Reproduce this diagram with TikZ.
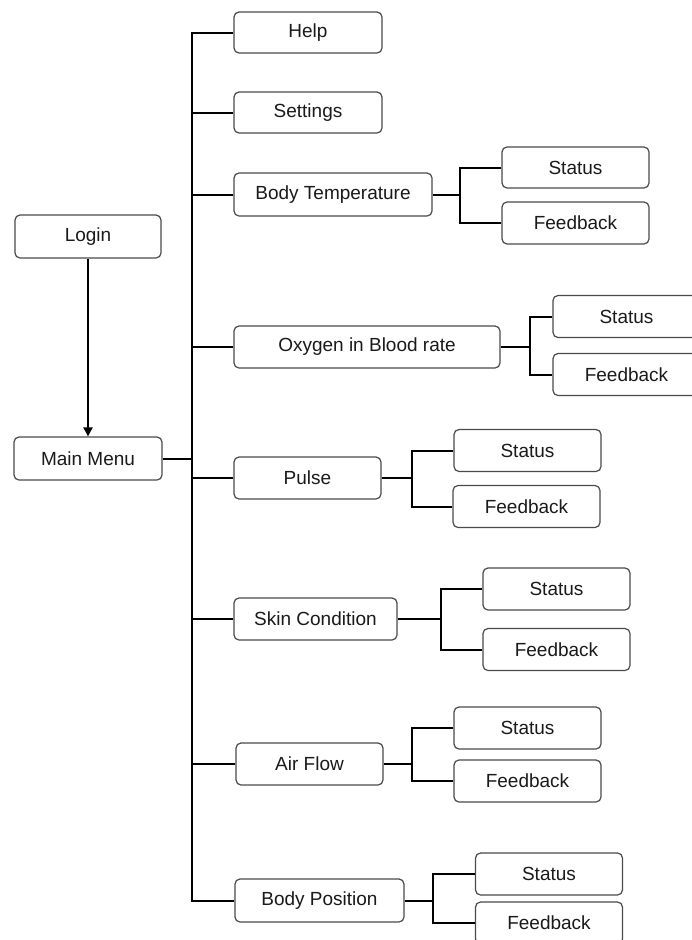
\documentclass[tikz,border=0pt]{standalone}
\usepackage{fontspec}
\setmainfont{Liberation Sans}
\usetikzlibrary{arrows.meta}
\definecolor{boxline}{HTML}{4A4A4A}
\definecolor{txt}{HTML}{1A1A1A}
\tikzset{
  box/.style={draw=boxline, line width=1.2pt, rounded corners=5pt, fill=white,
    minimum width=147pt, minimum height=42pt, inner sep=0pt, text=txt,
    font=\fontsize{19}{21}\selectfont},
  conn/.style={draw=black, line width=2pt},
  arr/.style={conn, -{Triangle[width=9pt,length=9pt]}}
}
\begin{document}
\begin{tikzpicture}[x=1pt,y=-1pt]
\clip (0,0) rectangle (692,940);
\fill[white] (0,0) rectangle (692,940);
% left column
\node[box, minimum width=146pt, minimum height=43pt] (login) at (88,236.5) {Login};
\node[box, minimum width=148pt, minimum height=43pt] (main) at (88,458.5) {Main Menu};
% menu items
\node[box, minimum width=148pt, minimum height=41pt] (help) at (308,32.5) {Help};
\node[box, minimum width=148pt, minimum height=41pt] (settings) at (308,112.5) {Settings};
\node[box, minimum width=198pt, minimum height=43pt] (bt) at (333,194.5) {Body Temperature};
\node[box, minimum width=266pt] (oxy) at (367,347) {Oxygen in Blood rate};
\node[box] (pulse) at (307.5,478) {Pulse};
\node[box, minimum width=163pt] (skin) at (315.5,619) {Skin Condition};
\node[box] (air) at (309.5,764) {Air Flow};
\node[box, minimum width=169pt, minimum height=43pt] (bp) at (319.5,900.5) {Body Position};
% sub items
\node[box, minimum height=41pt] (bts) at (575.5,167.5) {Status};
\node[box] (btf) at (575.5,223) {Feedback};
\node[box] (oxys) at (626.5,316.5) {Status};
\node[box] (oxyf) at (626.5,374.5) {Feedback};
\node[box] (pus) at (527.5,450.5) {Status};
\node[box] (puf) at (526.5,506.5) {Feedback};
\node[box] (sks) at (556.5,589) {Status};
\node[box] (skf) at (556.5,649.5) {Feedback};
\node[box] (airs) at (527.5,728) {Status};
\node[box] (airf) at (527.5,781) {Feedback};
\node[box] (bps) at (549,874) {Status};
\node[box] (bpf) at (549,923) {Feedback};
% trunk coordinates
\coordinate (ttop) at (192,32.5);
\coordinate (tbot) at (192,900.5);
\coordinate (tmain) at (192,458.5);
% login -> main
\draw[arr] (login.south) -- (main.north);
% trunk
\draw[conn] (main.east) -- (tmain);
\draw[conn] (help.west) -- (ttop) -- (tbot) -- (bp.west);
\foreach \n in {settings,bt,oxy,pulse,skin,air}{
  \draw[conn] (\n.west) -- (ttop |- \n.west);
}
% forks
\coordinate (fbt) at (460,194.5);
\coordinate (foxy) at (530,347);
\coordinate (fpu) at (412,478);
\coordinate (fsk) at (441,619);
\coordinate (fair) at (412,764);
\coordinate (fbp) at (433,900.5);
\draw[conn] (bt.east) -- (fbt);
\draw[conn] (bts.west) -| (fbt) |- (btf.west);
\draw[conn] (oxy.east) -- (foxy);
\draw[conn] (oxys.west) -| (foxy) |- (oxyf.west);
\draw[conn] (pulse.east) -- (fpu);
\draw[conn] (pus.west) -| (fpu) |- (puf.west);
\draw[conn] (skin.east) -- (fsk);
\draw[conn] (sks.west) -| (fsk) |- (skf.west);
\draw[conn] (air.east) -- (fair);
\draw[conn] (airs.west) -| (fair) |- (airf.west);
\draw[conn] (bp.east) -- (fbp);
\draw[conn] (bps.west) -| (fbp) |- (bpf.west);
\end{tikzpicture}
\end{document}
